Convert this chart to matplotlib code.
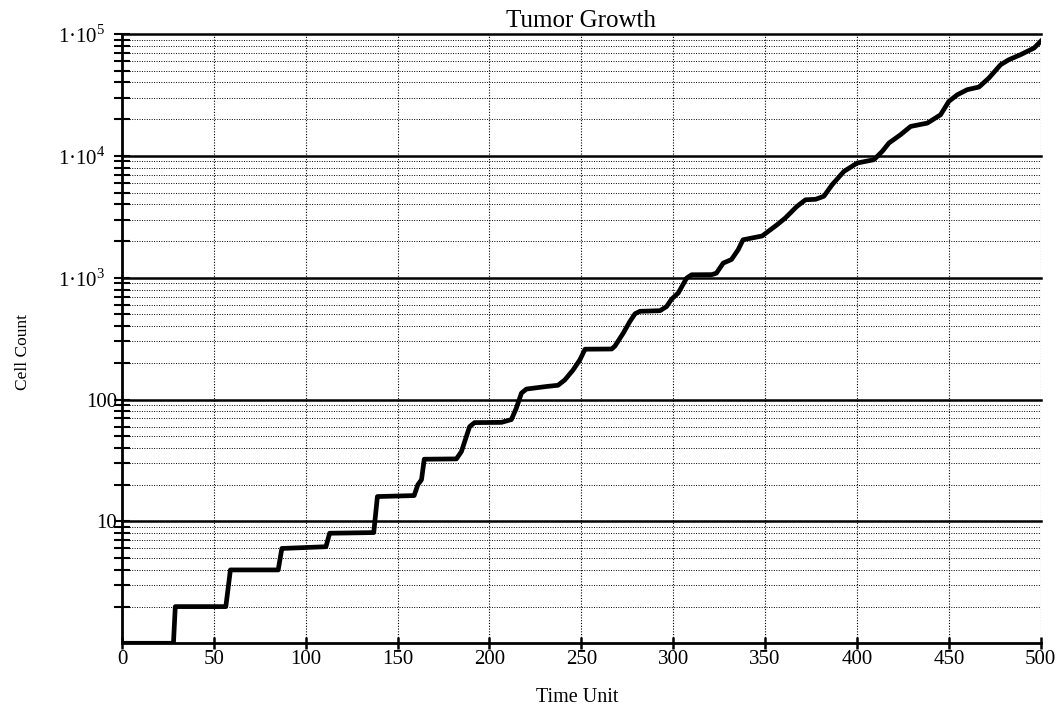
import numpy as np
import matplotlib
matplotlib.use('Agg')
import matplotlib.pyplot as plt
from matplotlib.ticker import LogLocator, FixedLocator, NullFormatter

# Curve (time unit, cell count)
time_unit = [0, 28, 29, 56.5, 59, 85, 87, 111, 113, 137, 139, 159, 161, 163, 164.5,
             182, 184.7, 189.2, 191.9, 206.5, 211.9, 214.6, 217.4, 220.1, 231, 237.3,
             241, 245.5, 249.2, 252, 266.5, 268.3, 272.8, 276.4, 279.2, 281.9, 292.8,
             296.4, 299.1, 302.7, 307.3, 310, 321, 323.5, 327.2, 331.7, 335.3, 338,
             348.4, 356.5, 361, 367.3, 372, 377.5, 382, 386.5, 392.9, 400.1, 409.2,
             413.8, 417.4, 423.7, 429.2, 438.3, 445.5, 450, 454.6, 460, 466.4, 471.8,
             478.2, 482.7, 489, 496.4, 500]
cell_count = [1, 1, 2, 2, 4, 4, 6, 6.2, 8, 8.1, 16, 16.3, 20, 22, 32.4,
              32.6, 37.4, 60, 64.7, 65, 68.5, 85, 113, 122, 128, 131,
              145, 175, 212, 259, 260, 275, 351, 437, 506, 530, 536,
              580, 667, 748, 993, 1057, 1060, 1090, 1318, 1410, 1694, 2048,
              2200, 2718, 3090, 3844, 4360, 4400, 4660, 5800, 7450, 8730, 9290,
              10900, 12740, 14900, 17430, 18570, 21730, 28000, 31700, 34900, 36700, 43500,
              56000, 61500, 67600, 76700, 87000]

x_ticks = [0, 50, 100, 150, 200, 250, 300, 350, 400, 450, 500]
y_ticks = [10, 100, 1000, 10000, 100000]
y_tick_labels = ['10', '100', '1·10$^{3}$   ', '1·10$^{4}$   ', '1·10$^{5}$   ']

plt.rcParams['font.family'] = ['Liberation Serif', 'DejaVu Serif']
plt.rcParams['mathtext.fontset'] = 'custom'
plt.rcParams['mathtext.rm'] = 'Liberation Serif'

fig = plt.figure(figsize=(10.6, 7.08), dpi=100)
ax = fig.add_axes([0.1151, 0.0914, 0.8667, 0.8606])

ax.set_yscale('log')
ax.set_xlim(0, 500)
ax.set_ylim(1, 1e5)

# Grid: thick solid decades, dotted minor lines, dotted verticals
for v in y_ticks:
    ax.axhline(v, color='black', lw=1.8, clip_on=False, zorder=2)
ax.yaxis.set_minor_locator(LogLocator(base=10, subs=np.arange(2, 10)))
ax.grid(which='minor', axis='y', color='black', lw=0.7, linestyle=(0, (1, 1.5)))
ax.grid(which='major', axis='x', color='black', lw=0.8, linestyle=(0, (1, 1.5)))

ax.plot(time_unit, cell_count, color='black', lw=3.4, zorder=3,
        solid_joinstyle='round')

# Ticks
ax.xaxis.set_major_locator(FixedLocator(x_ticks))
ax.set_xticklabels([str(x) for x in x_ticks])
ax.yaxis.set_major_locator(FixedLocator(y_ticks))
ax.set_yticklabels(y_tick_labels)
ax.yaxis.set_minor_formatter(NullFormatter())
ax.tick_params(axis='x', which='major', direction='inout', length=9, width=1.8,
               labelsize=15, pad=0)
ax.tick_params(axis='y', which='both', direction='inout', length=12, width=1.5,
               labelsize=15, pad=-2.5)

for side in ['top', 'right']:
    ax.spines[side].set_visible(False)
for side in ['left', 'bottom']:
    ax.spines[side].set_linewidth(2)

ax.set_xlabel('Time Unit', fontsize=14.5)
ax.set_ylabel('Cell Count', fontsize=12.5)
ax.xaxis.set_label_coords(0.496, -0.089)
ax.yaxis.set_label_coords(-0.108, 0.478)
ax.xaxis.label.set_va('center')
ax.yaxis.label.set_va('center')

fig.text(581 / 1060, 1 - 27 / 708, 'Tumor Growth', ha='center', va='baseline',
         fontsize=18)

fig.savefig('out.png', dpi=100)
